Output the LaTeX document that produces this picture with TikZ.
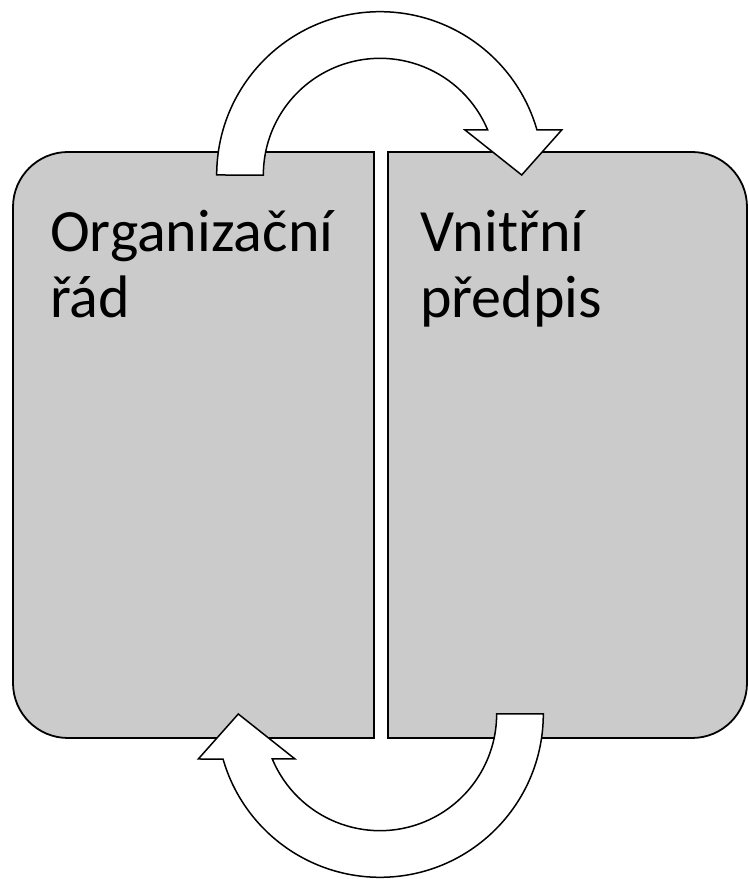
\documentclass[tikz,border=0pt]{standalone}
\usepackage{fontspec}
\setmainfont{Carlito}
\usetikzlibrary{positioning}
\definecolor{palgray}{HTML}{cbcbcb}
\colorlet{cbox}{palgray}
\tikzset{
  panel/.style={minimum height=586pt, inner sep=0pt, outer sep=0pt},
  panelline/.style={draw=black, line width=1.8pt, fill=cbox},
  paneltext/.style={anchor=base west, align=left, inner sep=0pt, font=\fontsize{60}{66}\selectfont},
  looparrow/.pic={
    \draw[line width=1.5pt, fill=white]
      (-163.3,0) arc[start angle=180, end angle=16, radius=163.3]
      -- (181.7,45) -- (141.7,0) -- (85,45) -- (107.7,45)
      arc[start angle=22.7, end angle=180, radius=116.7] -- cycle;
  }
}

\begin{document}
\begin{tikzpicture}[x=1pt, y=1pt]
  \useasboundingbox (0,0) rectangle (749,879);
  \node[panel, minimum width=361pt, anchor=south west] (org) at (13,141) {};
  \node[panel, minimum width=359pt, right=14pt of org] (vnp) {};

  \draw[panelline] (org.north east) -- (org.south east)
    -- ([xshift=55pt]org.south west) arc[start angle=270, end angle=180, radius=55pt]
    -- ([yshift=-55pt]org.north west) arc[start angle=180, end angle=90, radius=55pt] -- cycle;
  \draw[panelline] (vnp.north west) -- (vnp.south west)
    -- ([xshift=-55pt]vnp.south east) arc[start angle=270, end angle=360, radius=55pt]
    -- ([yshift=-55pt]vnp.north east) arc[start angle=0, end angle=90, radius=55pt] -- cycle;

  \path
  ([xshift=37pt, yshift=-166pt]org.north west) node[paneltext] (orgtext) {Organizační\\řád}
  ([xshift=32pt, yshift=-166pt]vnp.north west) node[paneltext] (vnptext) {Vnitřní\\předpis}
  ;

  % turning arrows between the two panels
  \coordinate (topturn) at ([xshift=6pt, yshift=-23pt]org.north east);
  \coordinate (botturn) at ([xshift=6pt, yshift=24pt]org.south east);
  \pic at (topturn) {looparrow};
  \pic[rotate=180] at (botturn) {looparrow};
\end{tikzpicture}
\end{document}
